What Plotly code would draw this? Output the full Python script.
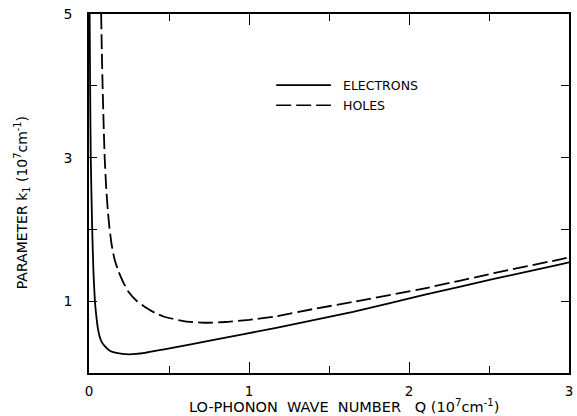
import plotly.graph_objects as go

# Electrons (solid)
q_e = [0.004, 0.007, 0.011, 0.020, 0.028, 0.037, 0.046, 0.055, 0.065, 0.080, 0.100, 0.130, 0.170, 0.25, 0.35, 0.47, 0.78, 1.17, 1.65, 2.10, 2.53, 2.96, 3.00]
k_e = [5.00, 4.00, 3.00, 2.00, 1.40, 1.00, 0.79, 0.63, 0.52, 0.43, 0.37, 0.31, 0.28, 0.26, 0.28, 0.33, 0.46, 0.63, 0.85, 1.09, 1.31, 1.52, 1.54]

# Holes (dashed)
q_h = [0.076, 0.080, 0.085, 0.091, 0.098, 0.107, 0.117, 0.128, 0.142, 0.160, 0.185, 0.215, 0.25, 0.30, 0.35, 0.41, 0.475, 0.60, 0.72, 0.85, 1.00, 1.17, 1.40, 1.65, 2.10, 2.53, 2.96, 3.00]
k_h = [5.00, 4.50, 4.00, 3.50, 3.00, 2.60, 2.28, 2.02, 1.78, 1.58, 1.41, 1.26, 1.12, 1.00, 0.92, 0.84, 0.78, 0.72, 0.70, 0.71, 0.74, 0.79, 0.89, 0.99, 1.18, 1.39, 1.59, 1.61]

x_ticks = [0, 1, 2, 3]
x_ticktext = ["0", "1", "2", "3"]
x_minor = [0.5, 1.5, 2.5]
y_ticks = [1, 3, 5]
y_ticktext = ["1", "3", "5"]
y_minor = [2, 4]

legend_names = ["ELECTRONS", "HOLES"]

FONT = "DejaVu Sans"
DASH = "15px,5px"

fig = go.Figure()
fig.add_trace(go.Scatter(x=q_e, y=k_e, mode="lines", name=legend_names[0],
                         line=dict(color="black", width=1.8, shape="spline", smoothing=0.5),
                         showlegend=False))
fig.add_trace(go.Scatter(x=q_h, y=k_h, mode="lines", name=legend_names[1],
                         line=dict(color="black", width=1.8, dash=DASH, shape="spline", smoothing=0.5),
                         showlegend=False))

axis_common = dict(showline=True, linecolor="black", linewidth=1.5, mirror="allticks",
                   ticks="inside", tickcolor="black", tickwidth=1.3,
                   showgrid=False, zeroline=False)

fig.update_xaxes(range=[0, 3], tickvals=x_ticks, ticktext=x_ticktext, ticklen=11,
                 ticklabelstandoff=5, tickfont=dict(family=FONT, size=13.5, color="black"),
                 minor=dict(tickvals=x_minor, ticklen=7, ticks="inside", tickcolor="black", tickwidth=1.3),
                 **axis_common)
fig.update_yaxes(range=[0, 5], tickvals=y_ticks, ticktext=y_ticktext, ticklen=8,
                 ticklabelstandoff=12, tickfont=dict(family=FONT, size=14, color="black"),
                 minor=dict(tickvals=y_minor, ticklen=8, ticks="inside", tickcolor="black", tickwidth=1.3),
                 **axis_common)

# legend drawn manually
leg_y = [0.802, 0.746]
for i, (name, dash) in enumerate(zip(legend_names, ["solid", DASH])):
    fig.add_shape(type="line", xref="paper", yref="paper",
                  x0=0.390, x1=0.504, y0=leg_y[i], y1=leg_y[i],
                  line=dict(color="black", width=1.6, dash=dash))
    fig.add_annotation(xref="paper", yref="paper", x=0.525, y=leg_y[i], text=name,
                       showarrow=False, xanchor="left", yanchor="middle",
                       font=dict(family=FONT, size=12.5, color="black"))

sp = "\u00a0"
fig.add_annotation(xref="paper", yref="paper", x=0.531, y=-0.1195,
                   text=f"LO-PHONON{sp}{sp}WAVE{sp}{sp}NUMBER{sp}{sp}{sp}Q{sp}(10<sup>7</sup>cm<sup>-1</sup>)",
                   showarrow=False, xanchor="center", yanchor="bottom", borderpad=0,
                   font=dict(family=FONT, size=14.5, color="black"))
fig.add_annotation(xref="paper", yref="paper", x=-0.138, y=0.475,
                   text=f"PARAMETER{sp}k<sub>1</sub>{sp}(10<sup>7</sup>cm<sup>-1</sup>)",
                   showarrow=False, xanchor="center", yanchor="middle", textangle=-90,
                   font=dict(family=FONT, size=14, color="black"))

fig.update_layout(width=577, height=416, margin=dict(l=89, r=4, t=14, b=43),
                  paper_bgcolor="white", plot_bgcolor="white")

fig.write_html("out.html")
